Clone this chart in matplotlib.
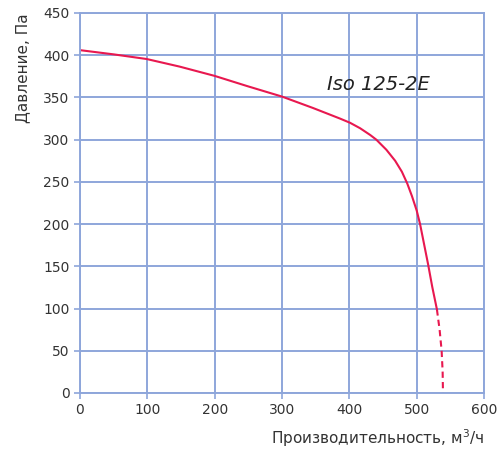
import numpy as np
import matplotlib.pyplot as plt

# curve (solid part and dashed tail)
flow = [0, 50, 99, 148, 200, 248, 300, 346, 386, 401, 416, 431, 440, 455, 468,
        478, 486, 493, 500, 505, 511, 517, 523, 530]
pressure = [406, 401, 395.5, 386.5, 375.5, 363.5, 351, 337.5, 325, 320, 313.5, 305.5, 300, 288, 275,
            262, 248, 233, 216, 200, 176, 152, 126, 99]
flow_tail = [530, 534, 537, 538.5, 539]
pressure_tail = [99, 75, 50, 25, 0]

xticks = [0, 100, 200, 300, 400, 500, 600]
yticks = [0, 50, 100, 150, 200, 250, 300, 350, 400, 450]

grid_col = '#8ea6da'
line_col = '#e8184f'

fig = plt.figure(figsize=(4.98, 4.59), dpi=100)
ax = fig.add_axes([0.1606, 0.1438, 0.972 - 0.1606, 0.9717 - 0.1438])

ax.plot(flow, pressure, color=line_col, lw=1.5)
ax.plot(flow_tail, pressure_tail, color=line_col, lw=1.5, ls=(0, (3, 2)))

ax.set_xlim(0, 600)
ax.set_ylim(0, 450)
ax.set_xticks(xticks)
ax.set_yticks(yticks)
ax.grid(True, color=grid_col, lw=1.4)
ax.set_axisbelow(True)
for s in ax.spines.values():
    s.set_color(grid_col)
    s.set_linewidth(1.4)
ax.tick_params(colors=grid_col, labelcolor='#333333', labelsize=10, length=4, width=1.2)

ax.text(367, 365, 'Iso 125-2E', fontsize=14, style='italic', color='#222222', va='center')

fig.text(0.972, 0.045, 'Производительность, м$^3$/ч', ha='right', va='center', fontsize=11, color='#333333')
fig.text(0.045, 0.9717, 'Давление, Па', rotation=90, ha='center', va='top', fontsize=11, color='#333333')

fig.savefig('out.png', dpi=100)
